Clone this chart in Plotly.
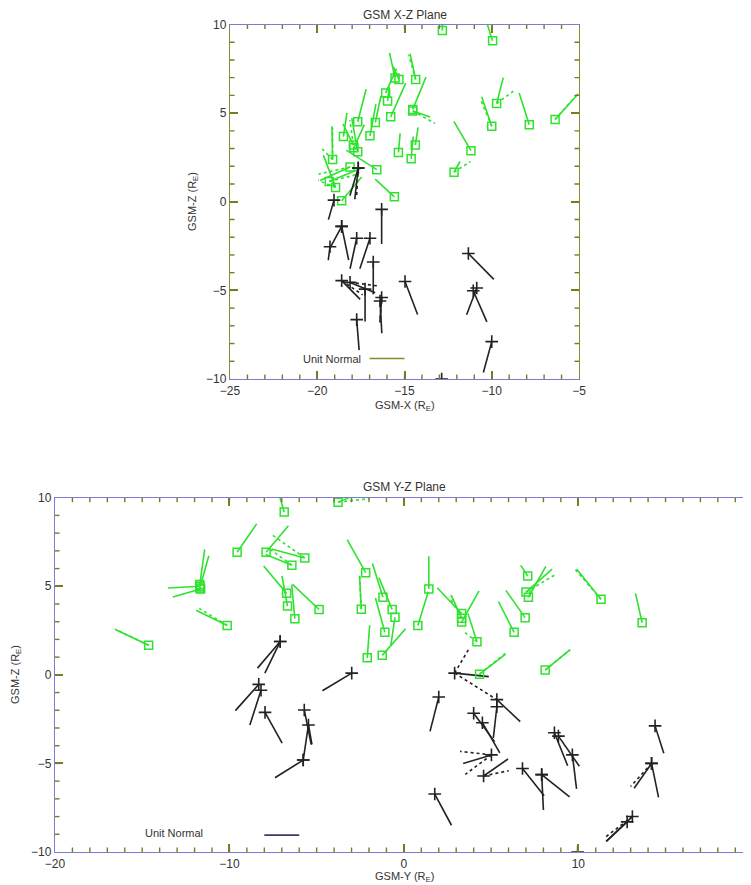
import plotly.graph_objects as go

UNIT_NORMAL = 2.0  # length (R_E) drawn for a unit normal vector

# ---------------- GSM X-Z plane ----------------
# northern (green) events: position and projected normal components
XZ_N_X = [-12.83, -9.95, -6.37, -7.85, -9.72, -10.0, -11.19, -12.16, -14.36, -15.54, -15.32, -16.08,
          -15.97, -15.79, -14.53, -14.53, -14.38, -14.62, -15.35, -16.67, -16.98, -17.68, -17.68,
          -17.93, -18.50, -16.59, -15.58, -18.12, -19.12, -18.95, -18.60, -19.31, -17.90]
XZ_N_Z = [9.66, 9.08, 4.64, 4.35, 5.54, 4.26, 2.88, 1.67, 6.90, 6.98, 6.90, 6.13,
          5.69, 4.79, 5.21, 5.12, 3.20, 2.42, 2.78, 4.47, 3.72, 4.51, 2.82,
          3.20, 3.68, 1.81, 0.28, 1.96, 2.38, 0.81, 0.05, 1.14, 3.05]
XZ_N_NX = [0.0, -0.19, 0.66, -0.29, 0.19, -0.29, -0.49, 0.17, -0.16, -0.16, -0.16, 0.31,
           0.05, 0.43, 0.38, 0.50, 0.08, 0.06, 0.05, 0.16, 0.17, 0.24, -0.17,
           -0.30, 0.10, -0.87, -0.55, -0.86, -0.02, -0.35, 0.57, 0.93, 0.30]
XZ_N_NZ = [0.32, 0.58, 0.72, 0.89, 0.73, 0.83, 0.83, 0.30, 0.73, 0.71, 0.36, 0.69,
           0.40, 0.95, 0.91, -0.17, 0.50, 0.63, 0.54, 0.75, 0.89, 0.92, 0.95,
           0.60, 0.67, 0.55, 0.50, -0.38, 0.94, 0.91, 0.67, 0.38, 0.65]
# northern dotted (alternative) normals
XZ_ND_X = [-6.37, -9.72, -10.0, -12.16, -14.36, -14.53, -17.93, -18.12, -19.12, -18.95, -19.31, -19.12]
XZ_ND_Z = [4.64, 5.54, 4.26, 1.67, 6.90, 5.12, 3.20, 1.96, 2.38, 0.81, 1.14, 2.38]
XZ_ND_NX = [0.62, 0.48, -0.33, 0.47, -0.20, 0.64, -0.10, -0.90, -0.30, -0.50, 0.80, 0.00]
XZ_ND_NZ = [0.70, 0.35, 0.78, 0.30, 0.70, -0.35, 0.70, -0.20, 0.30, 0.20, 0.20, 0.90]

# southern (black) events
XZ_S_X = [-17.65, -17.65, -19.04, -18.60, -18.60, -17.74, -16.98, -16.79, -16.31, -18.60, -18.12,
          -16.40, -17.26, -17.74, -14.97, -11.34, -11.06, -10.86, -10.00, -12.87, -19.27, -16.31]
XZ_S_Z = [1.90, 1.90, 0.09, -1.39, -1.39, -2.06, -2.06, -3.40, -0.43, -4.45, -4.55,
          -5.60, -4.93, -6.65, -4.50, -2.92, -5.02, -4.87, -7.89, -10.0, -2.54, -5.40]
XZ_S_NX = [-0.24, -0.10, -0.16, -0.34, 0.20, -0.19, -0.29, 0.0, 0.0, 0.53, 0.72,
           0.05, 0.0, 0.07, 0.36, 0.73, 0.39, -0.29, -0.24, 0.0, -0.05, -0.05]
XZ_S_NZ = [-0.78, -0.88, -0.55, -0.62, -0.95, -0.86, -0.86, -0.91, -0.98, -0.53, -0.29,
           -0.91, -0.91, -0.86, -0.93, -0.73, -0.88, -0.75, -0.87, 0.0, -0.38, -0.70]
XZ_SD_X = [-18.60, -18.12, -16.31, -17.65]
XZ_SD_Z = [-4.45, -4.55, -5.40, 1.90]
XZ_SD_NX = [0.60, 0.80, -0.05, -0.05]
XZ_SD_NZ = [-0.40, -0.10, -0.70, -0.85]

# ---------------- GSM Y-Z plane ----------------
YZ_N_Y = [-14.63, -10.13, -11.70, -11.70, -11.70, -11.65, -9.56, -7.90, -5.68, -6.42, -6.86, -6.72,
          -6.67, -6.25, -4.86, -3.77, -2.19, -2.44, -2.10, -1.20, -0.67, -0.51, -1.09, -1.24,
          0.80, 1.43, 3.31, 3.31, 3.31, 4.19, 4.34, 6.32, 6.95, 7.14, 7.00, 7.10, 8.10, 11.30, 13.66]
YZ_N_Z = [1.67, 2.79, 5.10, 4.90, 5.00, 4.85, 6.92, 6.92, 6.60, 6.19, 9.19, 4.60,
          3.88, 3.17, 3.69, 9.75, 5.77, 3.71, 0.96, 4.38, 3.69, 3.25, 2.40, 1.10,
          2.79, 4.85, 3.46, 2.98, 3.20, 1.87, 0.04, 2.40, 3.23, 4.38, 4.67, 5.58, 0.27, 4.27, 2.94]
YZ_N_NY = [-0.97, -0.89, 0.14, 0.26, -0.91, -0.80, 0.56, 0.64, -0.95, -0.75, -0.15, -0.66,
           -0.16, -0.09, -0.76, 0.70, -0.53, -0.05, 0.07, -0.30, -0.38, -0.12, -0.27, 0.67,
           0.30, 0.0, -0.70, 0.50, -0.30, -0.26, 0.74, -0.45, -0.55, 0.50, 0.75, -0.20, 0.70, -0.70, -0.19]
YZ_N_NZ = [0.45, 0.43, 0.99, 0.91, -0.05, -0.23, 0.80, 0.75, 0.25, 0.30, 0.50, 0.77,
           0.85, 0.96, 0.71, 0.28, 0.93, 0.94, 0.92, 0.95, 0.90, -0.80, 0.97, 0.75,
           0.95, 0.92, 0.73, 0.88, 0.65, 0.80, 0.56, 0.87, 0.77, 0.87, 0.65, 0.30, 0.56, 0.85, 0.83]
YZ_ND_Y = [-14.63, -10.13, -5.68, -6.42, -3.77, -2.44, 3.31, 4.19, 4.34, 7.00, 8.10, 11.30]
YZ_ND_Z = [1.67, 2.79, 6.60, 6.19, 9.75, 3.71, 3.20, 1.87, 0.04, 4.67, 0.27, 4.27]
YZ_ND_NY = [-0.85, -0.80, -0.92, -0.70, 0.90, -0.05, -0.35, -0.40, 0.78, 0.85, 0.72, -0.75]
YZ_ND_NZ = [0.40, 0.48, 0.64, 0.50, 0.10, 0.94, 0.60, 0.30, 0.62, 0.50, 0.58, 0.85]

YZ_S_Y = [-7.09, -7.09, -8.32, -8.19, -7.96, -5.71, -5.47, -5.77, -5.77, -2.99, 2.91, 2.00,
          5.33, 5.33, 4.00, 4.50, 5.02, 4.57, 8.63, 8.86, 9.66, 6.80, 7.90, 7.90, 1.77,
          14.40, 14.20, 14.20, 13.10, 12.80, 9.96]
YZ_S_Z = [1.88, 1.88, -0.54, -0.87, -2.12, -1.98, -2.83, -4.81, -4.81, 0.10, 0.10, -1.25,
          -1.40, -1.80, -2.17, -2.70, -4.52, -5.71, -3.27, -3.46, -4.52, -5.29, -5.63, -5.63, -6.73,
          -2.88, -5.00, -5.00, -8.00, -8.30, -10.0]
YZ_S_NY = [-0.65, -0.44, -0.67, -0.32, 0.49, 0.20, 0.10, -0.81, 0.15, -0.84, 0.98, -0.25,
           0.67, -0.10, 0.60, 0.50, -0.81, 0.70, 0.38, 0.60, 0.12, 0.62, 0.05, 0.80, 0.48,
           0.25, -0.50, 0.20, -0.75, -0.60, 0.0]
YZ_S_NZ = [-0.75, -0.89, -0.74, -0.98, -0.87, -0.98, -0.55, -0.50, 0.99, -0.50, -0.10, -0.97,
           -0.62, -0.88, -0.80, -0.85, -0.24, 0.48, -0.93, -0.85, -0.96, -0.77, -1.00, -0.63, -0.88,
           -0.77, -0.70, -0.96, -0.70, -0.55, 0.0]
YZ_SD_Y = [2.91, 2.91, 5.02, 5.02, 4.57, 14.20, 13.10]
YZ_SD_Z = [0.10, 0.10, -4.52, -4.52, -5.71, -5.00, -8.00]
YZ_SD_NY = [0.40, 1.21, -0.90, -0.75, 0.72, -0.60, -0.80]
YZ_SD_NZ = [0.67, -0.75, 0.10, -0.55, 0.15, -0.65, -0.60]

# minor tick values (1 R_E spacing)
XZ_X_MINOR = list(range(-24, -5))
YZ_Y_MINOR = list(range(-19, 20))
Z_MINOR = list(range(-9, 10))

GREEN = "#2ee22e"
BLACK = "#222222"
TICK = "#7a7a1e"
AXIS_BLUE = "#7c7cd6"
TEXT = "#333333"
FONT = "Liberation Sans, Arial, sans-serif"


def segs(xs, zs, nxs, nzs):
    sx, sz = [], []
    for x, z, nx, nz in zip(xs, zs, nxs, nzs):
        sx += [x, x + UNIT_NORMAL * nx, None]
        sz += [z, z + UNIT_NORMAL * nz, None]
    return sx, sz


fig = go.Figure()

# page has an 8 px body margin: figure pixel = reference pixel - 8
OFF = 8
W, H = 751 - OFF, 885 - OFF
XZ_X_RANGE = [-25, -5]
YZ_Y_RANGE = [-20, 19.9]
Z_RANGE = [-10, 10]


def fx(px):
    return (px - OFF) / W


def fy(py):
    return (H - (py - OFF)) / H


dom_x1 = [fx(230), fx(579)]
dom_y1 = [fy(379), fy(24.5)]
dom_x2 = [fx(55), 1.0]
dom_y2 = [fy(852), fy(497.7)]


def add_panel(xa, ya, nx, nz, nnx, nnz, ndx, ndz, ndnx, ndnz,
              sx, sz, snx, snz, sdx, sdz, sdnx, sdnz):
    for (px, pz, pnx, pnz, col, dash) in [
        (ndx, ndz, ndnx, ndnz, GREEN, "dot"),
        (sdx, sdz, sdnx, sdnz, BLACK, "dot"),
        (nx, nz, nnx, nnz, GREEN, "solid"),
        (sx, sz, snx, snz, BLACK, "solid"),
    ]:
        lx, lz = segs(px, pz, pnx, pnz)
        fig.add_trace(go.Scatter(x=lx, y=lz, mode="lines", xaxis=xa, yaxis=ya,
                                 line=dict(color=col, width=1.6, dash=dash),
                                 hoverinfo="skip", showlegend=False))
    fig.add_trace(go.Scatter(x=nx, y=nz, mode="markers", xaxis=xa, yaxis=ya,
                             marker=dict(symbol="square-open", size=8, color=GREEN,
                                         line=dict(color=GREEN, width=1.5)),
                             showlegend=False))
    fig.add_trace(go.Scatter(x=sx, y=sz, mode="markers", xaxis=xa, yaxis=ya,
                             marker=dict(symbol="cross-thin-open", size=9, color=BLACK,
                                         line=dict(color=BLACK, width=1.6)),
                             showlegend=False))


add_panel("x", "y", XZ_N_X, XZ_N_Z, XZ_N_NX, XZ_N_NZ, XZ_ND_X, XZ_ND_Z, XZ_ND_NX, XZ_ND_NZ,
          XZ_S_X, XZ_S_Z, XZ_S_NX, XZ_S_NZ, XZ_SD_X, XZ_SD_Z, XZ_SD_NX, XZ_SD_NZ)
add_panel("x2", "y2", YZ_N_Y, YZ_N_Z, YZ_N_NY, YZ_N_NZ, YZ_ND_Y, YZ_ND_Z, YZ_ND_NY, YZ_ND_NZ,
          YZ_S_Y, YZ_S_Z, YZ_S_NY, YZ_S_NZ, YZ_SD_Y, YZ_SD_Z, YZ_SD_NY, YZ_SD_NZ)

# unit-normal scale bars
UNIT_BAR_XZ = (-17.0, -8.85)
UNIT_BAR_YZ = (-8.0, -9.05)
fig.add_trace(go.Scatter(x=[UNIT_BAR_XZ[0], UNIT_BAR_XZ[0] + UNIT_NORMAL],
                         y=[UNIT_BAR_XZ[1]] * 2, mode="lines", xaxis="x", yaxis="y",
                         line=dict(color="#8a8a2a", width=1.5), showlegend=False, hoverinfo="skip"))
fig.add_trace(go.Scatter(x=[UNIT_BAR_YZ[0], UNIT_BAR_YZ[0] + UNIT_NORMAL],
                         y=[UNIT_BAR_YZ[1]] * 2, mode="lines", xaxis="x2", yaxis="y2",
                         line=dict(color="#3a3a70", width=1.8), showlegend=False, hoverinfo="skip"))

# minor ticks: short inside marks on all four sides, drawn as line traces
MINOR_LEN = 4.5  # px


def minor_ticks(xa, ya, xvals, yvals, xr, yr, wpx, hpx):
    dx = MINOR_LEN * (xr[1] - xr[0]) / wpx
    dz = MINOR_LEN * (yr[1] - yr[0]) / hpx
    tx, tz = [], []
    for v in xvals:
        tx += [v, v, None, v, v, None]
        tz += [yr[0], yr[0] + dz, None, yr[1], yr[1] - dz, None]
    for v in yvals:
        tx += [xr[0], xr[0] + dx, None, xr[1], xr[1] - dx, None]
        tz += [v, v, None, v, v, None]
    fig.add_trace(go.Scatter(x=tx, y=tz, mode="lines", xaxis=xa, yaxis=ya,
                             line=dict(color=TICK, width=1.4), cliponaxis=False,
                             showlegend=False, hoverinfo="skip"))


minor_ticks("x", "y", XZ_X_MINOR, Z_MINOR, XZ_X_RANGE, Z_RANGE, 579 - 230, 379 - 24.5)
minor_ticks("x2", "y2", YZ_Y_MINOR, Z_MINOR, YZ_Y_RANGE, Z_RANGE, 751 - 55, 852 - 497.7)

base = dict(showgrid=False, zeroline=False, automargin=False, mirror="ticks",
            ticks="inside", tickcolor=TICK, showline=True, ticklen=8, tickwidth=1.6,
            tickfont=dict(family=FONT, size=12, color=TEXT))

fig.update_layout(
    width=W, height=H, margin=dict(l=0, r=0, t=0, b=0, autoexpand=False),
    paper_bgcolor="white", plot_bgcolor="white",
    xaxis=dict(base, domain=dom_x1, range=XZ_X_RANGE, dtick=5, anchor="y",
               linecolor=AXIS_BLUE, linewidth=1.3),
    yaxis=dict(base, domain=dom_y1, range=Z_RANGE, dtick=5, anchor="x",
               linecolor="#8a8a30", linewidth=1.3),
    xaxis2=dict(base, domain=dom_x2, range=YZ_Y_RANGE, dtick=10, anchor="y2",
                linecolor=AXIS_BLUE, linewidth=1.3),
    yaxis2=dict(base, domain=dom_y2, range=Z_RANGE, dtick=5, anchor="x2",
                linecolor=AXIS_BLUE, linewidth=1.3),
)

ann = [
    dict(text="GSM X-Z Plane", x=fx(404.5), y=fy(15), size=12),
    dict(text="GSM Y-Z Plane", x=fx(404), y=fy(487), size=12),
    dict(text="GSM-X (R<sub>E</sub>)", x=fx(404.5), y=fy(406), size=11),
    dict(text="GSM-Y (R<sub>E</sub>)", x=fx(404), y=fy(877), size=11),
]
annotations = []
for a in ann:
    annotations.append(dict(text=a["text"], x=a["x"], y=a["y"], xref="paper", yref="paper",
                            showarrow=False, xanchor="center", yanchor="middle",
                            font=dict(family=FONT, size=a["size"], color=TEXT)))
for x, y in [(193, 202), (16, 675)]:
    annotations.append(dict(text="GSM-Z (R<sub>E</sub>)", x=fx(x), y=fy(y),
                            xref="paper", yref="paper", showarrow=False, textangle=-90,
                            xanchor="center", yanchor="middle",
                            font=dict(family=FONT, size=11, color=TEXT)))
annotations.append(dict(text="Unit Normal", x=UNIT_BAR_XZ[0] - 0.4, y=UNIT_BAR_XZ[1], xref="x", yref="y",
                        showarrow=False, xanchor="right", yanchor="middle",
                        font=dict(family=FONT, size=11, color=TEXT)))
annotations.append(dict(text="Unit Normal", x=UNIT_BAR_YZ[0] - 3.4, y=UNIT_BAR_YZ[1] + 0.1, xref="x2", yref="y2",
                        showarrow=False, xanchor="right", yanchor="middle",
                        font=dict(family=FONT, size=11, color=TEXT)))
fig.update_layout(annotations=annotations)

fig.write_html("out.html")
